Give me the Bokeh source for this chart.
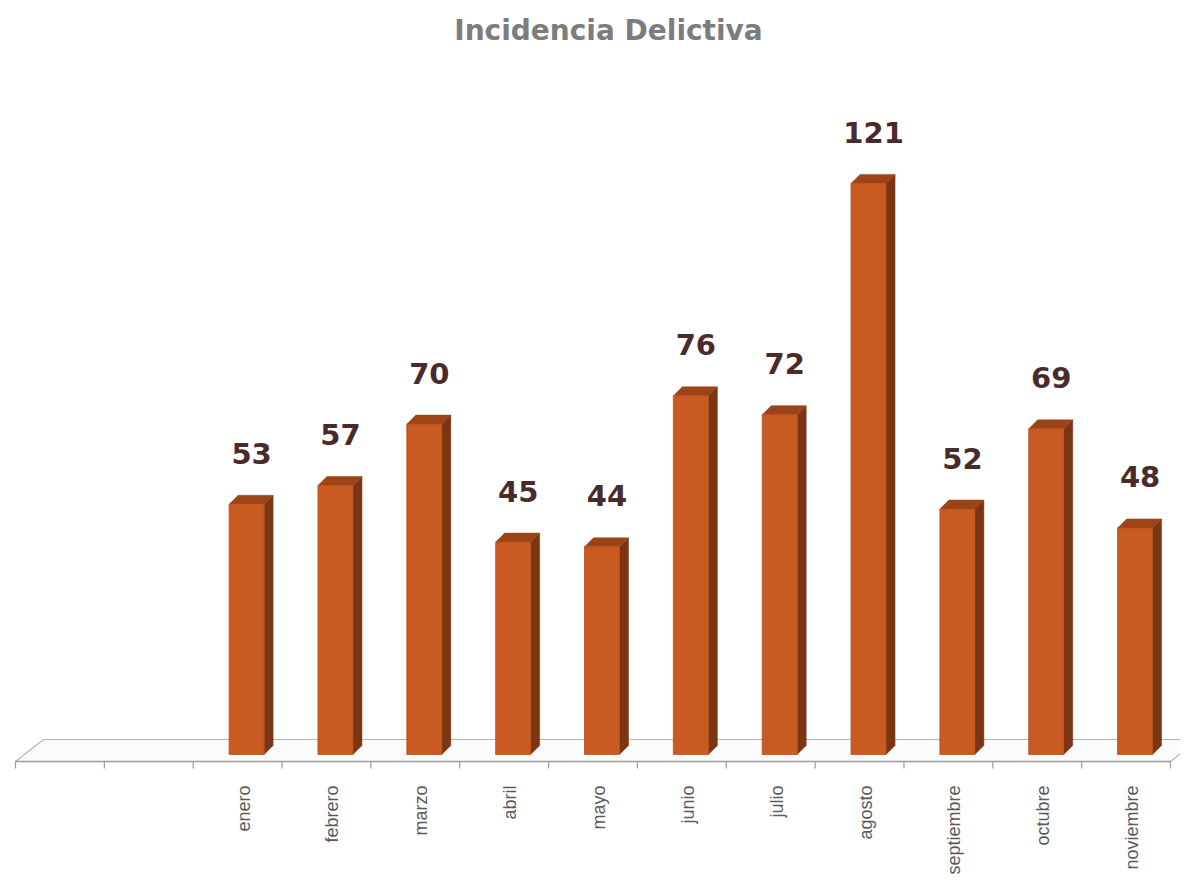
from bokeh.plotting import figure
from bokeh.models import Range1d, Label, ColumnDataSource
from bokeh.core.properties import value
from bokeh.embed import file_html
from bokeh.resources import INLINE
import math

# ---- data ----
title_text = "Incidencia Delictiva"
slots = ["", "", "enero", "febrero", "marzo", "abril", "mayo", "junio",
         "julio", "agosto", "septiembre", "octubre", "noviembre"]
months = ["enero", "febrero", "marzo", "abril", "mayo", "junio",
          "julio", "agosto", "septiembre", "octubre", "noviembre"]
values = [53, 57, 70, 45, 44, 76, 72, 121, 52, 69, 48]

# ---- geometry (pixels -> data units) ----
W, H = 1180, 877
PX_X = 1155 / 13.0        # pixels per category slot
PX_Y = 4.72               # pixels per value unit
x0 = -15 / PX_X
x1 = x0 + W / PX_X
y1 = 754 / PX_Y
y0 = y1 - H / PX_Y

def dx(px):
    return px / PX_X

def dy(px):
    return px / PX_Y

p = figure(width=W, height=H, output_backend="svg", toolbar_location=None,
           x_range=Range1d(x0, x1), y_range=Range1d(y0, y1),
           min_border=0, outline_line_color=None, background_fill_color="white",
           border_fill_color="white")
p.axis.visible = False
p.grid.visible = False

n = len(slots)
# floor plane
front_y = dy(-7)
back_y = front_y + dy(22)
p.patch([0, n, n + dx(28), dx(28)], [front_y, front_y, back_y, back_y],
        fill_color="#fbfbfb", line_color="#b5b5b5", line_width=1.2)
p.segment(x0=[0], y0=[front_y], x1=[n], y1=[front_y], line_color="#9a9a9a", line_width=1.5)
# ticks
tick_x = list(range(n + 1))
p.segment(x0=tick_x, y0=[front_y] * len(tick_x), x1=tick_x,
          y1=[front_y - dy(7)] * len(tick_x), line_color="#9a9a9a", line_width=1.2)

# bars
offset = len(slots) - len(months)
centers = [offset + i + 0.5 + dx(9) for i in range(len(months))]
half = dx(17.5)
bdx, bdy = dx(9), dy(9)
left = [c - half for c in centers]
right = [c + half for c in centers]

side_xs, side_ys, top_xs, top_ys = [], [], [], []
for l, r, v in zip(left, right, values):
    side_xs.append([r, r + bdx, r + bdx, r])
    side_ys.append([0, bdy, v + bdy, v])
    top_xs.append([l, r, r + bdx, l + bdx])
    top_ys.append([v, v, v + bdy, v + bdy])

p.patches(side_xs, side_ys, fill_color="#7a3512", line_color="#7a3512", line_width=0.5)
p.patches(top_xs, top_ys, fill_color="#9c4318", line_color="#9c4318", line_width=0.5)
p.quad(left=left, right=right, bottom=[0] * len(values), top=values,
       fill_color="#c85a22", line_color="#b84f1c", line_width=0.8)

# value labels
src = ColumnDataSource(dict(x=[c + dx(5) for c in centers],
                            y=[v + dy(51) for v in values],
                            t=[str(v) for v in values]))
p.text(x="x", y="y", text="t", source=src, text_font=value("DejaVu Sans"),
       text_font_style="bold", text_font_size="29px", text_color="#4a2b2b",
       text_align="center", text_baseline="middle")

# category labels
lab = ColumnDataSource(dict(x=[offset + i + 0.5 + dx(6) for i in range(len(months))],
                            y=[front_y - dy(24)] * len(months), t=months))
p.text(x="x", y="y", text="t", source=lab, angle=math.pi / 2,
       text_font=value("Liberation Sans"), text_font_size="18px",
       text_color="#5a5a5a", text_align="right", text_baseline="middle")

p.add_layout(Label(x=608, y=H - 30, x_units="screen", y_units="screen",
                   text=title_text, text_font="DejaVu Sans", text_font_style="bold",
                   text_font_size="28px", text_color="#7c7c7c",
                   text_align="center", text_baseline="middle"))

open("out.html", "w").write(file_html(p, INLINE))
